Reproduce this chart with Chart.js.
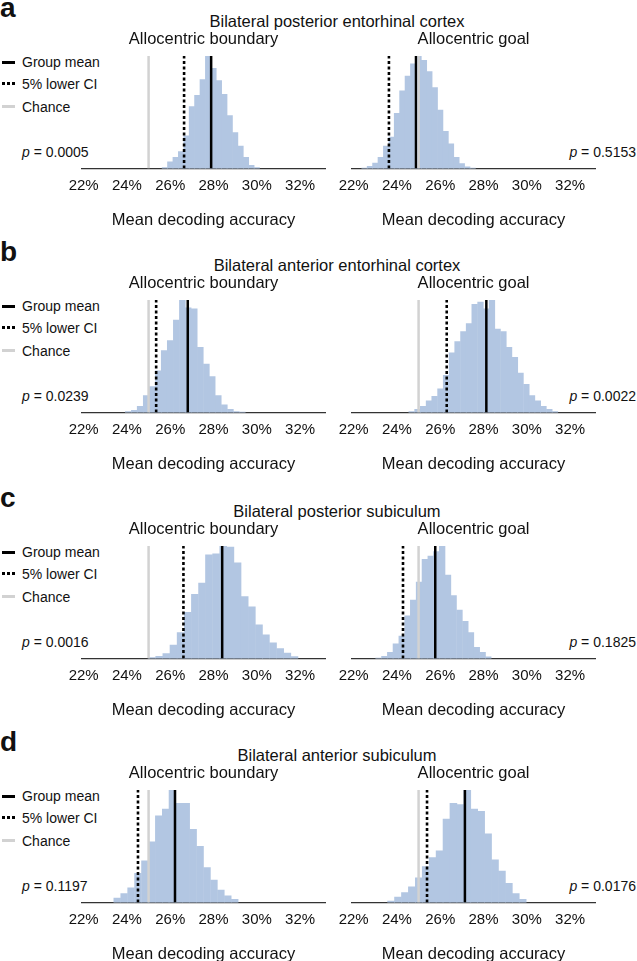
<!DOCTYPE html>
<html>
<head>
<meta charset="utf-8">
<script src="https://cdn.jsdelivr.net/npm/chart.js@4"></script>
<style>
  html, body { margin: 0; padding: 0; background: #fff; }
  body { width: 637px; height: 961px; position: relative; overflow: hidden;
         font-family: "Liberation Sans", Arial, sans-serif; color: #111; }
  .txt { position: absolute; white-space: nowrap; line-height: 20px; height: 20px; }
  .letter { font-weight: bold; font-size: 28px; line-height: 28px; height: 28px; }
  .rowtitle { font-size: 16.5px; text-align: center; }
  .small { font-size: 14px; }
  .key { position: absolute; left: 2px; width: 13px; height: 0; }
  canvas { position: absolute; }
</style>
</head>
<body>
<script>
// ---- data ----
const regions = ['Bilateral posterior entorhinal cortex', 'Bilateral anterior entorhinal cortex',
                 'Bilateral posterior subiculum', 'Bilateral anterior subiculum'];
const panelLetters = ['a', 'b', 'c', 'd'];
const conditions = ['Allocentric boundary', 'Allocentric goal'];
const legendLabels = ['Group mean', '5% lower CI', 'Chance'];
const tickValues = [22, 24, 26, 28, 30, 32];
const chanceLevel = 25;

const meanBoundary = [27.89, 26.81, 28.40, 26.22];
const meanGoal = [24.88, 28.13, 25.77, 27.14];
const ciBoundary = [26.64, 25.35, 26.61, 24.51];
const ciGoal = [23.63, 26.30, 24.28, 25.39];
const pBoundary = ['0.0005', '0.0239', '0.0016', '0.1197'];
const pGoal = ['0.5153', '0.0022', '0.1825', '0.0176'];

// permutation histograms (bin centre in %, relative count)
const aBoundaryBins = [25.75, 26.0, 26.25, 26.5, 26.75, 27.0, 27.25, 27.5, 27.75, 28.0, 28.25, 28.5, 28.75, 29.0, 29.25, 29.5, 29.75, 30.0];
const aBoundaryCounts = [1, 6, 10, 15, 29, 55, 65, 79, 100, 89, 78, 66, 47, 32, 20, 10, 3, 1];
const aGoalBins = [22.5, 22.75, 23.0, 23.25, 23.5, 23.75, 24.0, 24.25, 24.5, 24.75, 25.0, 25.25, 25.5, 25.75, 26.0, 26.25, 26.5, 26.75, 27.0, 27.25, 27.5];
const aGoalCounts = [0.5, 2, 5, 10, 20, 28, 49, 69, 82, 93, 100, 96, 86, 72, 52, 33, 22, 10, 4.5, 1.5, 0.5];

const bBoundaryBins = [24.06, 24.34, 24.61, 24.89, 25.17, 25.45, 25.72, 26.0, 26.28, 26.56, 26.83, 27.11, 27.39, 27.67, 27.94, 28.22, 28.5, 28.78, 29.05, 29.33];
const bBoundaryCounts = [1, 2, 5.5, 15, 23, 37, 55, 64, 82, 100, 93, 92, 58, 43, 32, 15, 7, 3, 1, 0.5];
const bGoalBins = [24.68, 24.95, 25.21, 25.48, 25.74, 26.01, 26.27, 26.54, 26.8, 27.07, 27.33, 27.59, 27.86, 28.12, 28.39, 28.65, 28.92, 29.18, 29.45, 29.71, 29.98, 30.24, 30.51, 30.77, 31.04, 31.3];
const bGoalCounts = [1, 3, 5.5, 10.5, 14.5, 21, 33, 53, 63, 72, 79, 96, 98, 92, 100, 74, 72, 58, 49, 35, 25, 15, 10.5, 5.5, 3, 1];

const cBoundaryBins = [25.16, 25.49, 25.82, 26.15, 26.48, 26.81, 27.14, 27.47, 27.79, 28.12, 28.45, 28.78, 29.11, 29.44, 29.77, 30.1, 30.42, 30.75, 31.08, 31.41, 31.74];
const cBoundaryCounts = [1, 2, 4.5, 12, 23, 41, 57, 67, 92, 93, 100, 99, 85, 55, 46, 30, 21, 14, 9, 5, 1.7];
const cGoalBins = [23.15, 23.42, 23.69, 23.95, 24.22, 24.49, 24.75, 25.02, 25.29, 25.56, 25.82, 26.09, 26.36, 26.62, 26.89, 27.16, 27.42, 27.69, 27.96, 28.22];
const cGoalCounts = [0.5, 2, 5.5, 13, 20, 38, 52, 68, 88, 91, 95, 100, 74, 56, 43, 33, 23, 10, 5.5, 1.6];

const dBoundaryBins = [23.55, 23.87, 24.19, 24.51, 24.83, 25.15, 25.47, 25.79, 26.1, 26.42, 26.74, 27.06, 27.38, 27.7, 28.02, 28.34, 28.66, 28.98];
const dBoundaryCounts = [4, 8, 13, 26, 37, 54, 77, 83, 100, 88, 88, 65, 50, 31, 20, 11, 6, 3];
const dGoalBins = [23.73, 24.05, 24.37, 24.69, 25.01, 25.33, 25.65, 25.97, 26.29, 26.61, 26.93, 27.25, 27.57, 27.89, 28.21, 28.53, 28.85, 29.17, 29.49, 29.81];
const dGoalCounts = [1.4, 5, 9, 14, 22, 32, 40, 46, 74, 88, 87, 100, 83, 81, 61, 38, 28, 17, 8, 3];

const boundaryBins = [aBoundaryBins, bBoundaryBins, cBoundaryBins, dBoundaryBins];
const boundaryCounts = [aBoundaryCounts, bBoundaryCounts, cBoundaryCounts, dBoundaryCounts];
const goalBins = [aGoalBins, bGoalBins, cGoalBins, dGoalBins];
const goalCounts = [aGoalCounts, bGoalCounts, cGoalCounts, dGoalCounts];

// ---- drawing ----
const FONT = '"Liberation Sans", Arial, sans-serif';
Chart.defaults.font.family = FONT;
Chart.defaults.color = '#111';

const rowOffset = [0, 244, 490, 734];
const xMin = 21.93, xMax = 33.15;

function addText(cls, html, left, centerY, extra) {
  const el = document.createElement('div');
  el.className = 'txt ' + cls;
  el.innerHTML = html;
  el.style.left = left + 'px';
  el.style.top = (centerY - 10) + 'px';
  if (extra) Object.assign(el.style, extra);
  document.body.appendChild(el);
  return el;
}

function addKey(y, style) {
  const k = document.createElement('div');
  k.className = 'key';
  k.style.top = (y - 1.5) + 'px';
  k.style.borderTop = style;
  document.body.appendChild(k);
}

function makePanel(left, top, bins, counts, mean, ci, title) {
  const canvas = document.createElement('canvas');
  canvas.width = 285;
  canvas.height = 200;
  canvas.style.left = left + 'px';
  canvas.style.top = top + 'px';
  document.body.appendChild(canvas);

  const ymax = Math.max(...counts);
  const vline = v => [{x: v, y: 0}, {x: v, y: ymax}];

  new Chart(canvas, {
    type: 'bar',
    data: {
      datasets: [
        {type: 'line', data: vline(chanceLevel), borderColor: '#d2d2d2', borderWidth: 2.5, pointRadius: 0, order: 1},
        {type: 'line', data: vline(mean), borderColor: '#000', borderWidth: 2.5, pointRadius: 0, order: 2},
        {type: 'line', data: vline(ci), borderColor: '#000', borderWidth: 2.6, borderDash: [3, 2.5], pointRadius: 0, order: 3},
        {type: 'bar', data: bins.map((b, i) => ({x: b, y: counts[i]})),
         backgroundColor: 'rgb(178,198,226)', borderWidth: 0,
         barPercentage: 1, categoryPercentage: 1, order: 4}
      ]
    },
    options: {
      responsive: false,
      animation: false,
      devicePixelRatio: 1,
      layout: {padding: {left: 20, right: 20, top: 0, bottom: 0}},
      plugins: {
        legend: {display: false},
        tooltip: {enabled: false},
        title: {display: true, text: title, fullSize: false, color: '#111',
                font: {size: 16.5, weight: 'normal'}, padding: {top: 0, bottom: 6.1}}
      },
      scales: {
        x: {
          type: 'linear', min: xMin, max: xMax, offset: false, z: 1,
          grid: {display: false, drawTicks: false, tickLength: 0},
          border: {display: true, color: '#333', width: 1.3},
          afterBuildTicks: axis => { axis.ticks = tickValues.map(v => ({value: v})); },
          ticks: {padding: 8.5, color: '#111', font: {size: 15}, maxRotation: 0, autoSkip: false,
                  callback: v => v + '%'},
          title: {display: true, text: 'Mean decoding accuracy', color: '#111',
                  font: {size: 16.5}, padding: {top: 6.6, bottom: 0}}
        },
        y: {display: false, min: 0, max: ymax}
      }
    }
  });
}

for (let r = 0; r < 4; r++) {
  const off = rowOffset[r];
  const letter = addText('letter', panelLetters[r], 0, off + 8);
  letter.style.top = (off - 6) + 'px';
  addText('rowtitle', regions[r], 80, off + 21, {width: '514px'});

  addKey(off + 62, '3px solid #000');
  addKey(off + 83.5, '3px dotted #000');
  addKey(off + 106.7, '3px solid #d2d2d2');
  addText('small', legendLabels[0], 22, off + 62);
  addText('small', legendLabels[1], 22, off + 83.5);
  addText('small', legendLabels[2], 22, off + 106.7);

  addText('small', '<i>p</i> = ' + pBoundary[r], 22, off + 152);
  addText('small', '<i>p</i> = ' + pGoal[r], 0, off + 152, {left: 'auto', right: '1px', textAlign: 'right'});

  makePanel(60, off + 30, boundaryBins[r], boundaryCounts[r], meanBoundary[r], ciBoundary[r], conditions[0]);
  makePanel(330, off + 30, goalBins[r], goalCounts[r], meanGoal[r], ciGoal[r], conditions[1]);
}
</script>
</body>
</html>
